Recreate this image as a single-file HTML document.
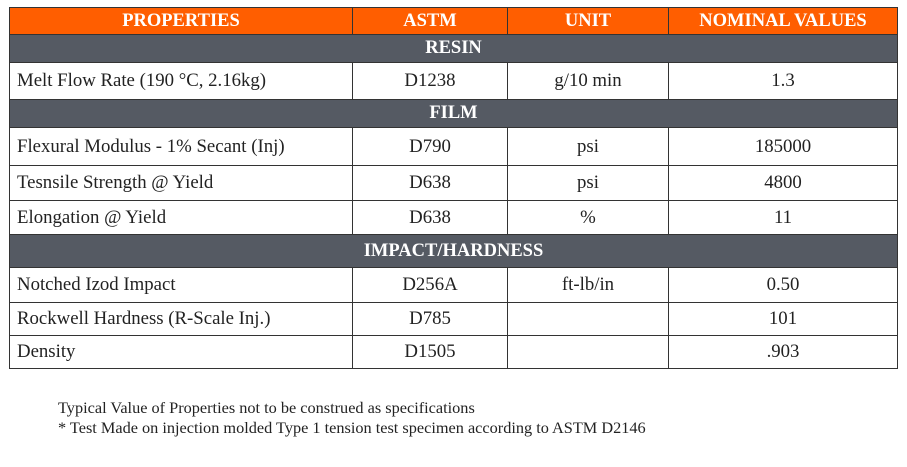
<!DOCTYPE html>
<html><head><style>
body{margin:0;width:907px;height:467px;background:#fff;position:relative;font-family:"Liberation Serif","DejaVu Serif",serif;overflow:hidden}
.r{position:absolute;left:9px;width:889px;box-sizing:border-box;border:1.5px solid #333;}
.c{position:absolute;top:0;bottom:0;display:flex;align-items:center;justify-content:center;font-size:18.8px;color:#222;box-sizing:border-box}
.h{background:#ff5e00;color:#fff;font-weight:bold}
.h .c{font-size:18.5px;color:#fff}
.g{background:#555a63;color:#fff;font-weight:bold;font-size:18.5px;display:flex;align-items:center;justify-content:center}
.b{border-left:1.5px solid #333}
.l{justify-content:flex-start;padding-left:7px}
.f{position:absolute;left:58px;font-size:16.3px;color:#222;white-space:nowrap}
</style></head><body>
<div class="r h" style="top:7px;height:28px">
<div class="c" style="left:0;width:342px">PROPERTIES</div>
<div class="c b" style="left:342px;width:155px">ASTM</div>
<div class="c b" style="left:497px;width:161px">UNIT</div>
<div class="c b" style="left:658px;width:229px">NOMINAL VALUES</div>
</div>
<div class="r g" style="top:34px;height:29px">RESIN</div>
<div class="r" style="top:62px;height:38px">
<div class="c l" style="left:0;width:342px">Melt Flow Rate (190 °C, 2.16kg)</div>
<div class="c b" style="left:342px;width:155px">D1238</div>
<div class="c b" style="left:497px;width:161px">g/10 min</div>
<div class="c b" style="left:658px;width:229px">1.3</div>
</div>
<div class="r g" style="top:99px;height:29px">FILM</div>
<div class="r" style="top:127px;height:39px">
<div class="c l" style="left:0;width:342px">Flexural Modulus - 1% Secant (Inj)</div>
<div class="c b" style="left:342px;width:155px">D790</div>
<div class="c b" style="left:497px;width:161px">psi</div>
<div class="c b" style="left:658px;width:229px">185000</div>
</div>
<div class="r" style="top:165px;height:36px">
<div class="c l" style="left:0;width:342px">Tesnsile Strength @ Yield</div>
<div class="c b" style="left:342px;width:155px">D638</div>
<div class="c b" style="left:497px;width:161px">psi</div>
<div class="c b" style="left:658px;width:229px">4800</div>
</div>
<div class="r" style="top:200px;height:35px">
<div class="c l" style="left:0;width:342px">Elongation @ Yield</div>
<div class="c b" style="left:342px;width:155px">D638</div>
<div class="c b" style="left:497px;width:161px">%</div>
<div class="c b" style="left:658px;width:229px">11</div>
</div>
<div class="r g" style="top:234px;height:34px">IMPACT/HARDNESS</div>
<div class="r" style="top:267px;height:36px">
<div class="c l" style="left:0;width:342px">Notched Izod Impact</div>
<div class="c b" style="left:342px;width:155px">D256A</div>
<div class="c b" style="left:497px;width:161px">ft-lb/in</div>
<div class="c b" style="left:658px;width:229px">0.50</div>
</div>
<div class="r" style="top:302px;height:34px">
<div class="c l" style="left:0;width:342px">Rockwell Hardness (R-Scale Inj.)</div>
<div class="c b" style="left:342px;width:155px">D785</div>
<div class="c b" style="left:497px;width:161px"></div>
<div class="c b" style="left:658px;width:229px">101</div>
</div>
<div class="r" style="top:335px;height:34px">
<div class="c l" style="left:0;width:342px">Density</div>
<div class="c b" style="left:342px;width:155px">D1505</div>
<div class="c b" style="left:497px;width:161px"></div>
<div class="c b" style="left:658px;width:229px">.903</div>
</div>
<div class="f" style="top:398px">Typical Value of Properties not to be construed as specifications</div>
<div class="f" style="top:418px">* Test Made on injection molded Type 1 tension test specimen according to ASTM D2146</div>
</body></html>
